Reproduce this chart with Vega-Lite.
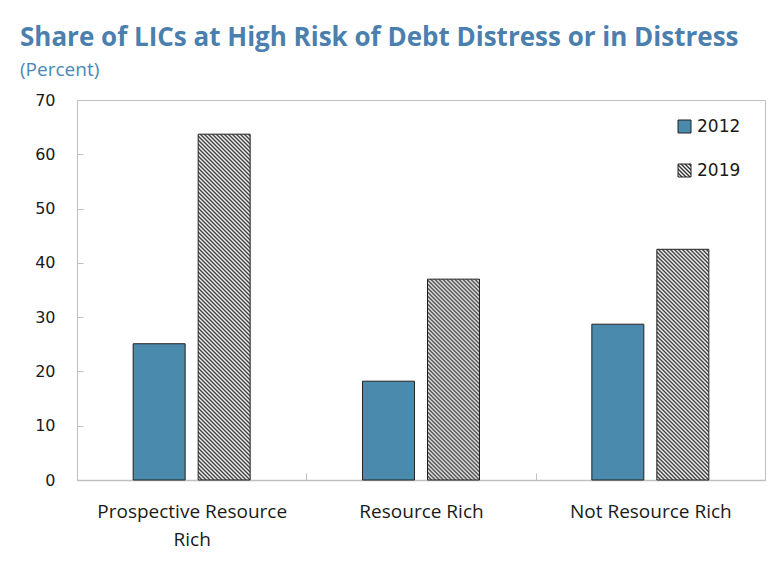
{
  "$schema": "https://vega.github.io/schema/vega-lite/v6.json",
  "autosize": {"type": "none"},
  "width": 688,
  "height": 380,
  "padding": {"left": 77, "top": 100, "right": 15, "bottom": 92},
  "background": "#ffffff",
  "title": {
    "text": "Share of LICs at High Risk of Debt Distress or in Distress",
    "subtitle": "(Percent)",
    "anchor": "start",
    "frame": "group",
    "dx": -57,
    "offset": 12,
    "font": "Open Sans",
    "fontSize": 26,
    "fontWeight": "bold",
    "color": "#4a7fae",
    "subtitleFont": "Open Sans",
    "subtitleFontSize": 19,
    "subtitleColor": "#4a86bb",
    "subtitlePadding": 10
  },
  "data": {
    "values": [
      {"cat": "Prospective Resource Rich", "year": "2012", "value": 25.1},
      {"cat": "Prospective Resource Rich", "year": "2019", "value": 63.7},
      {"cat": "Resource Rich", "year": "2012", "value": 18.2},
      {"cat": "Resource Rich", "year": "2019", "value": 37.0},
      {"cat": "Not Resource Rich", "year": "2012", "value": 28.7},
      {"cat": "Not Resource Rich", "year": "2019", "value": 42.5}
    ]
  },
  "encoding": {
    "x": {
      "field": "cat",
      "type": "nominal",
      "sort": ["Prospective Resource Rich", "Resource Rich", "Not Resource Rich"],
      "scale": {"paddingInner": 0, "paddingOuter": 0},
      "axis": {
        "title": null,
        "labelAngle": 0,
        "tickBand": "extent",
        "tickSize": -7,
        "tickColor": "#bfbfbf",
        "domainColor": "#bfbfbf",
        "domainWidth": 1.5,
        "labelPadding": 29,
        "labelFont": "Open Sans",
        "labelFontSize": 19,
        "labelLineHeight": 28,
        "labelLimit": 400,
        "labelColor": "#1a1a1a",
        "labelExpr": "datum.value === 'Prospective Resource Rich' ? ['Prospective Resource', 'Rich'] : datum.value"
      }
    },
    "xOffset": {
      "field": "year",
      "type": "nominal",
      "scale": {"domain": ["2012", "2019"], "paddingInner": 0.2, "paddingOuter": 0.864}
    },
    "y": {
      "field": "value",
      "type": "quantitative",
      "scale": {"domain": [0, 70], "nice": false},
      "axis": {
        "title": null,
        "grid": false,
        "values": [0, 10, 20, 30, 40, 50, 60, 70],
        "tickSize": -6,
        "tickColor": "#bfbfbf",
        "domainColor": "#bfbfbf",
        "labelPadding": 28,
        "labelFont": "DejaVu Sans",
        "labelFontSize": 16,
        "labelColor": "#1a1a1a"
      }
    }
  },
  "layer": [
    {
      "transform": [{"filter": "datum.year === '2012'"}],
      "mark": {"type": "bar", "strokeWidth": 1, "fill": "#4a8bad"},
      "encoding": {
        "stroke": {
          "field": "year",
          "type": "nominal",
          "scale": {"domain": ["2012"], "range": ["#222222"]},
          "legend": {
            "title": null,
            "orient": "none",
            "legendX": 599,
            "legendY": 18,
            "padding": 0,
            "symbolType": "square",
            "symbolSize": 169,
            "symbolStrokeWidth": 1,
            "labelFont": "DejaVu Sans",
            "labelFontSize": 17,
            "labelColor": "#1a1a1a",
            "labelOffset": 4
          }
        }
      }
    },
    {
      "transform": [{"filter": "datum.year === '2019'"}],
      "mark": {"type": "bar", "strokeWidth": 1},
      "encoding": {
        "stroke": {
          "field": "year",
          "type": "nominal",
          "scale": {"domain": ["2019"], "range": ["#222222"]},
          "legend": {
            "title": null,
            "orient": "none",
            "legendX": 599,
            "legendY": 62,
            "padding": 0,
            "symbolType": "square",
            "symbolSize": 169,
            "symbolStrokeWidth": 1,
            "labelFont": "DejaVu Sans",
            "labelFontSize": 17,
            "labelColor": "#1a1a1a",
            "labelOffset": 4
          }
        },
        "fill": {
          "condition": [
            {"test": "datum.cat === 'Prospective Resource Rich'", "value": {"gradient": "linear", "x1": 0, "y1": 1, "x2": 0.170099, "y2": -0.131158, "stops": [{"offset":0,"color":"#333"},{"offset":0.005,"color":"#fff"},{"offset":0.01,"color":"#333"},{"offset":0.015,"color":"#fff"},{"offset":0.02,"color":"#333"},{"offset":0.025,"color":"#fff"},{"offset":0.03,"color":"#333"},{"offset":0.035,"color":"#fff"},{"offset":0.04,"color":"#333"},{"offset":0.045,"color":"#fff"},{"offset":0.05,"color":"#333"},{"offset":0.055,"color":"#fff"},{"offset":0.06,"color":"#333"},{"offset":0.065,"color":"#fff"},{"offset":0.07,"color":"#333"},{"offset":0.075,"color":"#fff"},{"offset":0.08,"color":"#333"},{"offset":0.085,"color":"#fff"},{"offset":0.09,"color":"#333"},{"offset":0.095,"color":"#fff"},{"offset":0.1,"color":"#333"},{"offset":0.105,"color":"#fff"},{"offset":0.11,"color":"#333"},{"offset":0.115,"color":"#fff"},{"offset":0.12,"color":"#333"},{"offset":0.125,"color":"#fff"},{"offset":0.13,"color":"#333"},{"offset":0.135,"color":"#fff"},{"offset":0.14,"color":"#333"},{"offset":0.145,"color":"#fff"},{"offset":0.15,"color":"#333"},{"offset":0.155,"color":"#fff"},{"offset":0.16,"color":"#333"},{"offset":0.165,"color":"#fff"},{"offset":0.17,"color":"#333"},{"offset":0.175,"color":"#fff"},{"offset":0.18,"color":"#333"},{"offset":0.185,"color":"#fff"},{"offset":0.19,"color":"#333"},{"offset":0.195,"color":"#fff"},{"offset":0.2,"color":"#333"},{"offset":0.205,"color":"#fff"},{"offset":0.21,"color":"#333"},{"offset":0.215,"color":"#fff"},{"offset":0.22,"color":"#333"},{"offset":0.225,"color":"#fff"},{"offset":0.23,"color":"#333"},{"offset":0.235,"color":"#fff"},{"offset":0.24,"color":"#333"},{"offset":0.245,"color":"#fff"},{"offset":0.25,"color":"#333"},{"offset":0.255,"color":"#fff"},{"offset":0.26,"color":"#333"},{"offset":0.265,"color":"#fff"},{"offset":0.27,"color":"#333"},{"offset":0.275,"color":"#fff"},{"offset":0.28,"color":"#333"},{"offset":0.285,"color":"#fff"},{"offset":0.29,"color":"#333"},{"offset":0.295,"color":"#fff"},{"offset":0.3,"color":"#333"},{"offset":0.305,"color":"#fff"},{"offset":0.31,"color":"#333"},{"offset":0.315,"color":"#fff"},{"offset":0.32,"color":"#333"},{"offset":0.325,"color":"#fff"},{"offset":0.33,"color":"#333"},{"offset":0.335,"color":"#fff"},{"offset":0.34,"color":"#333"},{"offset":0.345,"color":"#fff"},{"offset":0.35,"color":"#333"},{"offset":0.355,"color":"#fff"},{"offset":0.36,"color":"#333"},{"offset":0.365,"color":"#fff"},{"offset":0.37,"color":"#333"},{"offset":0.375,"color":"#fff"},{"offset":0.38,"color":"#333"},{"offset":0.385,"color":"#fff"},{"offset":0.39,"color":"#333"},{"offset":0.395,"color":"#fff"},{"offset":0.4,"color":"#333"},{"offset":0.405,"color":"#fff"},{"offset":0.41,"color":"#333"},{"offset":0.415,"color":"#fff"},{"offset":0.42,"color":"#333"},{"offset":0.425,"color":"#fff"},{"offset":0.43,"color":"#333"},{"offset":0.435,"color":"#fff"},{"offset":0.44,"color":"#333"},{"offset":0.445,"color":"#fff"},{"offset":0.45,"color":"#333"},{"offset":0.455,"color":"#fff"},{"offset":0.46,"color":"#333"},{"offset":0.465,"color":"#fff"},{"offset":0.47,"color":"#333"},{"offset":0.475,"color":"#fff"},{"offset":0.48,"color":"#333"},{"offset":0.485,"color":"#fff"},{"offset":0.49,"color":"#333"},{"offset":0.495,"color":"#fff"},{"offset":0.5,"color":"#333"},{"offset":0.505,"color":"#fff"},{"offset":0.51,"color":"#333"},{"offset":0.515,"color":"#fff"},{"offset":0.52,"color":"#333"},{"offset":0.525,"color":"#fff"},{"offset":0.53,"color":"#333"},{"offset":0.535,"color":"#fff"},{"offset":0.54,"color":"#333"},{"offset":0.545,"color":"#fff"},{"offset":0.55,"color":"#333"},{"offset":0.555,"color":"#fff"},{"offset":0.56,"color":"#333"},{"offset":0.565,"color":"#fff"},{"offset":0.57,"color":"#333"},{"offset":0.575,"color":"#fff"},{"offset":0.58,"color":"#333"},{"offset":0.585,"color":"#fff"},{"offset":0.59,"color":"#333"},{"offset":0.595,"color":"#fff"},{"offset":0.6,"color":"#333"},{"offset":0.605,"color":"#fff"},{"offset":0.61,"color":"#333"},{"offset":0.615,"color":"#fff"},{"offset":0.62,"color":"#333"},{"offset":0.625,"color":"#fff"},{"offset":0.63,"color":"#333"},{"offset":0.635,"color":"#fff"},{"offset":0.64,"color":"#333"},{"offset":0.645,"color":"#fff"},{"offset":0.65,"color":"#333"},{"offset":0.655,"color":"#fff"},{"offset":0.66,"color":"#333"},{"offset":0.665,"color":"#fff"},{"offset":0.67,"color":"#333"},{"offset":0.675,"color":"#fff"},{"offset":0.68,"color":"#333"},{"offset":0.685,"color":"#fff"},{"offset":0.69,"color":"#333"},{"offset":0.695,"color":"#fff"},{"offset":0.7,"color":"#333"},{"offset":0.705,"color":"#fff"},{"offset":0.71,"color":"#333"},{"offset":0.715,"color":"#fff"},{"offset":0.72,"color":"#333"},{"offset":0.725,"color":"#fff"},{"offset":0.73,"color":"#333"},{"offset":0.735,"color":"#fff"},{"offset":0.74,"color":"#333"},{"offset":0.745,"color":"#fff"},{"offset":0.75,"color":"#333"},{"offset":0.755,"color":"#fff"},{"offset":0.76,"color":"#333"},{"offset":0.765,"color":"#fff"},{"offset":0.77,"color":"#333"},{"offset":0.775,"color":"#fff"},{"offset":0.78,"color":"#333"},{"offset":0.785,"color":"#fff"},{"offset":0.79,"color":"#333"},{"offset":0.795,"color":"#fff"},{"offset":0.8,"color":"#333"},{"offset":0.805,"color":"#fff"},{"offset":0.81,"color":"#333"},{"offset":0.815,"color":"#fff"},{"offset":0.82,"color":"#333"},{"offset":0.825,"color":"#fff"},{"offset":0.83,"color":"#333"},{"offset":0.835,"color":"#fff"},{"offset":0.84,"color":"#333"},{"offset":0.845,"color":"#fff"},{"offset":0.85,"color":"#333"},{"offset":0.855,"color":"#fff"},{"offset":0.86,"color":"#333"},{"offset":0.865,"color":"#fff"},{"offset":0.87,"color":"#333"},{"offset":0.875,"color":"#fff"},{"offset":0.88,"color":"#333"},{"offset":0.885,"color":"#fff"},{"offset":0.89,"color":"#333"},{"offset":0.895,"color":"#fff"},{"offset":0.9,"color":"#333"},{"offset":0.905,"color":"#fff"},{"offset":0.91,"color":"#333"},{"offset":0.915,"color":"#fff"},{"offset":0.92,"color":"#333"},{"offset":0.925,"color":"#fff"},{"offset":0.93,"color":"#333"},{"offset":0.935,"color":"#fff"},{"offset":0.94,"color":"#333"},{"offset":0.945,"color":"#fff"},{"offset":0.95,"color":"#333"},{"offset":0.955,"color":"#fff"},{"offset":0.96,"color":"#333"},{"offset":0.965,"color":"#fff"},{"offset":0.97,"color":"#333"},{"offset":0.975,"color":"#fff"},{"offset":0.98,"color":"#333"},{"offset":0.985,"color":"#fff"},{"offset":0.99,"color":"#333"},{"offset":0.995,"color":"#fff"},{"offset":1,"color":"#333"}]}},
            {"test": "datum.cat === 'Resource Rich'", "value": {"gradient": "linear", "x1": 0, "y1": 1, "x2": 0.483186, "y2": -0.866366, "stops": [{"offset":0,"color":"#333"},{"offset":0.005,"color":"#fff"},{"offset":0.01,"color":"#333"},{"offset":0.015,"color":"#fff"},{"offset":0.02,"color":"#333"},{"offset":0.025,"color":"#fff"},{"offset":0.03,"color":"#333"},{"offset":0.035,"color":"#fff"},{"offset":0.04,"color":"#333"},{"offset":0.045,"color":"#fff"},{"offset":0.05,"color":"#333"},{"offset":0.055,"color":"#fff"},{"offset":0.06,"color":"#333"},{"offset":0.065,"color":"#fff"},{"offset":0.07,"color":"#333"},{"offset":0.075,"color":"#fff"},{"offset":0.08,"color":"#333"},{"offset":0.085,"color":"#fff"},{"offset":0.09,"color":"#333"},{"offset":0.095,"color":"#fff"},{"offset":0.1,"color":"#333"},{"offset":0.105,"color":"#fff"},{"offset":0.11,"color":"#333"},{"offset":0.115,"color":"#fff"},{"offset":0.12,"color":"#333"},{"offset":0.125,"color":"#fff"},{"offset":0.13,"color":"#333"},{"offset":0.135,"color":"#fff"},{"offset":0.14,"color":"#333"},{"offset":0.145,"color":"#fff"},{"offset":0.15,"color":"#333"},{"offset":0.155,"color":"#fff"},{"offset":0.16,"color":"#333"},{"offset":0.165,"color":"#fff"},{"offset":0.17,"color":"#333"},{"offset":0.175,"color":"#fff"},{"offset":0.18,"color":"#333"},{"offset":0.185,"color":"#fff"},{"offset":0.19,"color":"#333"},{"offset":0.195,"color":"#fff"},{"offset":0.2,"color":"#333"},{"offset":0.205,"color":"#fff"},{"offset":0.21,"color":"#333"},{"offset":0.215,"color":"#fff"},{"offset":0.22,"color":"#333"},{"offset":0.225,"color":"#fff"},{"offset":0.23,"color":"#333"},{"offset":0.235,"color":"#fff"},{"offset":0.24,"color":"#333"},{"offset":0.245,"color":"#fff"},{"offset":0.25,"color":"#333"},{"offset":0.255,"color":"#fff"},{"offset":0.26,"color":"#333"},{"offset":0.265,"color":"#fff"},{"offset":0.27,"color":"#333"},{"offset":0.275,"color":"#fff"},{"offset":0.28,"color":"#333"},{"offset":0.285,"color":"#fff"},{"offset":0.29,"color":"#333"},{"offset":0.295,"color":"#fff"},{"offset":0.3,"color":"#333"},{"offset":0.305,"color":"#fff"},{"offset":0.31,"color":"#333"},{"offset":0.315,"color":"#fff"},{"offset":0.32,"color":"#333"},{"offset":0.325,"color":"#fff"},{"offset":0.33,"color":"#333"},{"offset":0.335,"color":"#fff"},{"offset":0.34,"color":"#333"},{"offset":0.345,"color":"#fff"},{"offset":0.35,"color":"#333"},{"offset":0.355,"color":"#fff"},{"offset":0.36,"color":"#333"},{"offset":0.365,"color":"#fff"},{"offset":0.37,"color":"#333"},{"offset":0.375,"color":"#fff"},{"offset":0.38,"color":"#333"},{"offset":0.385,"color":"#fff"},{"offset":0.39,"color":"#333"},{"offset":0.395,"color":"#fff"},{"offset":0.4,"color":"#333"},{"offset":0.405,"color":"#fff"},{"offset":0.41,"color":"#333"},{"offset":0.415,"color":"#fff"},{"offset":0.42,"color":"#333"},{"offset":0.425,"color":"#fff"},{"offset":0.43,"color":"#333"},{"offset":0.435,"color":"#fff"},{"offset":0.44,"color":"#333"},{"offset":0.445,"color":"#fff"},{"offset":0.45,"color":"#333"},{"offset":0.455,"color":"#fff"},{"offset":0.46,"color":"#333"},{"offset":0.465,"color":"#fff"},{"offset":0.47,"color":"#333"},{"offset":0.475,"color":"#fff"},{"offset":0.48,"color":"#333"},{"offset":0.485,"color":"#fff"},{"offset":0.49,"color":"#333"},{"offset":0.495,"color":"#fff"},{"offset":0.5,"color":"#333"},{"offset":0.505,"color":"#fff"},{"offset":0.51,"color":"#333"},{"offset":0.515,"color":"#fff"},{"offset":0.52,"color":"#333"},{"offset":0.525,"color":"#fff"},{"offset":0.53,"color":"#333"},{"offset":0.535,"color":"#fff"},{"offset":0.54,"color":"#333"},{"offset":0.545,"color":"#fff"},{"offset":0.55,"color":"#333"},{"offset":0.555,"color":"#fff"},{"offset":0.56,"color":"#333"},{"offset":0.565,"color":"#fff"},{"offset":0.57,"color":"#333"},{"offset":0.575,"color":"#fff"},{"offset":0.58,"color":"#333"},{"offset":0.585,"color":"#fff"},{"offset":0.59,"color":"#333"},{"offset":0.595,"color":"#fff"},{"offset":0.6,"color":"#333"},{"offset":0.605,"color":"#fff"},{"offset":0.61,"color":"#333"},{"offset":0.615,"color":"#fff"},{"offset":0.62,"color":"#333"},{"offset":0.625,"color":"#fff"},{"offset":0.63,"color":"#333"},{"offset":0.635,"color":"#fff"},{"offset":0.64,"color":"#333"}]}},
            {"test": "datum.cat === 'Not Resource Rich'", "value": {"gradient": "linear", "x1": 0, "y1": 1, "x2": 0.371873, "y2": -0.649937, "stops": [{"offset":0,"color":"#333"},{"offset":0.005,"color":"#fff"},{"offset":0.01,"color":"#333"},{"offset":0.015,"color":"#fff"},{"offset":0.02,"color":"#333"},{"offset":0.025,"color":"#fff"},{"offset":0.03,"color":"#333"},{"offset":0.035,"color":"#fff"},{"offset":0.04,"color":"#333"},{"offset":0.045,"color":"#fff"},{"offset":0.05,"color":"#333"},{"offset":0.055,"color":"#fff"},{"offset":0.06,"color":"#333"},{"offset":0.065,"color":"#fff"},{"offset":0.07,"color":"#333"},{"offset":0.075,"color":"#fff"},{"offset":0.08,"color":"#333"},{"offset":0.085,"color":"#fff"},{"offset":0.09,"color":"#333"},{"offset":0.095,"color":"#fff"},{"offset":0.1,"color":"#333"},{"offset":0.105,"color":"#fff"},{"offset":0.11,"color":"#333"},{"offset":0.115,"color":"#fff"},{"offset":0.12,"color":"#333"},{"offset":0.125,"color":"#fff"},{"offset":0.13,"color":"#333"},{"offset":0.135,"color":"#fff"},{"offset":0.14,"color":"#333"},{"offset":0.145,"color":"#fff"},{"offset":0.15,"color":"#333"},{"offset":0.155,"color":"#fff"},{"offset":0.16,"color":"#333"},{"offset":0.165,"color":"#fff"},{"offset":0.17,"color":"#333"},{"offset":0.175,"color":"#fff"},{"offset":0.18,"color":"#333"},{"offset":0.185,"color":"#fff"},{"offset":0.19,"color":"#333"},{"offset":0.195,"color":"#fff"},{"offset":0.2,"color":"#333"},{"offset":0.205,"color":"#fff"},{"offset":0.21,"color":"#333"},{"offset":0.215,"color":"#fff"},{"offset":0.22,"color":"#333"},{"offset":0.225,"color":"#fff"},{"offset":0.23,"color":"#333"},{"offset":0.235,"color":"#fff"},{"offset":0.24,"color":"#333"},{"offset":0.245,"color":"#fff"},{"offset":0.25,"color":"#333"},{"offset":0.255,"color":"#fff"},{"offset":0.26,"color":"#333"},{"offset":0.265,"color":"#fff"},{"offset":0.27,"color":"#333"},{"offset":0.275,"color":"#fff"},{"offset":0.28,"color":"#333"},{"offset":0.285,"color":"#fff"},{"offset":0.29,"color":"#333"},{"offset":0.295,"color":"#fff"},{"offset":0.3,"color":"#333"},{"offset":0.305,"color":"#fff"},{"offset":0.31,"color":"#333"},{"offset":0.315,"color":"#fff"},{"offset":0.32,"color":"#333"},{"offset":0.325,"color":"#fff"},{"offset":0.33,"color":"#333"},{"offset":0.335,"color":"#fff"},{"offset":0.34,"color":"#333"},{"offset":0.345,"color":"#fff"},{"offset":0.35,"color":"#333"},{"offset":0.355,"color":"#fff"},{"offset":0.36,"color":"#333"},{"offset":0.365,"color":"#fff"},{"offset":0.37,"color":"#333"},{"offset":0.375,"color":"#fff"},{"offset":0.38,"color":"#333"},{"offset":0.385,"color":"#fff"},{"offset":0.39,"color":"#333"},{"offset":0.395,"color":"#fff"},{"offset":0.4,"color":"#333"},{"offset":0.405,"color":"#fff"},{"offset":0.41,"color":"#333"},{"offset":0.415,"color":"#fff"},{"offset":0.42,"color":"#333"},{"offset":0.425,"color":"#fff"},{"offset":0.43,"color":"#333"},{"offset":0.435,"color":"#fff"},{"offset":0.44,"color":"#333"},{"offset":0.445,"color":"#fff"},{"offset":0.45,"color":"#333"},{"offset":0.455,"color":"#fff"},{"offset":0.46,"color":"#333"},{"offset":0.465,"color":"#fff"},{"offset":0.47,"color":"#333"},{"offset":0.475,"color":"#fff"},{"offset":0.48,"color":"#333"},{"offset":0.485,"color":"#fff"},{"offset":0.49,"color":"#333"},{"offset":0.495,"color":"#fff"},{"offset":0.5,"color":"#333"},{"offset":0.505,"color":"#fff"},{"offset":0.51,"color":"#333"},{"offset":0.515,"color":"#fff"},{"offset":0.52,"color":"#333"},{"offset":0.525,"color":"#fff"},{"offset":0.53,"color":"#333"},{"offset":0.535,"color":"#fff"},{"offset":0.54,"color":"#333"},{"offset":0.545,"color":"#fff"},{"offset":0.55,"color":"#333"},{"offset":0.555,"color":"#fff"},{"offset":0.56,"color":"#333"},{"offset":0.565,"color":"#fff"},{"offset":0.57,"color":"#333"},{"offset":0.575,"color":"#fff"},{"offset":0.58,"color":"#333"},{"offset":0.585,"color":"#fff"},{"offset":0.59,"color":"#333"},{"offset":0.595,"color":"#fff"},{"offset":0.6,"color":"#333"},{"offset":0.605,"color":"#fff"},{"offset":0.61,"color":"#333"},{"offset":0.615,"color":"#fff"},{"offset":0.62,"color":"#333"},{"offset":0.625,"color":"#fff"},{"offset":0.63,"color":"#333"},{"offset":0.635,"color":"#fff"},{"offset":0.64,"color":"#333"},{"offset":0.645,"color":"#fff"},{"offset":0.65,"color":"#333"},{"offset":0.655,"color":"#fff"},{"offset":0.66,"color":"#333"},{"offset":0.665,"color":"#fff"},{"offset":0.67,"color":"#333"},{"offset":0.675,"color":"#fff"},{"offset":0.68,"color":"#333"},{"offset":0.685,"color":"#fff"},{"offset":0.69,"color":"#333"},{"offset":0.695,"color":"#fff"},{"offset":0.7,"color":"#333"},{"offset":0.705,"color":"#fff"},{"offset":0.71,"color":"#333"}]}}
          ],
          "value": {"gradient": "linear", "x1": 0, "y1": 1, "x2": 1, "y2": 0, "stops": [{"offset":0,"color":"#333"},{"offset":0.077,"color":"#fff"},{"offset":0.154,"color":"#333"},{"offset":0.231,"color":"#fff"},{"offset":0.308,"color":"#333"},{"offset":0.385,"color":"#fff"},{"offset":0.462,"color":"#333"},{"offset":0.538,"color":"#fff"},{"offset":0.615,"color":"#333"},{"offset":0.692,"color":"#fff"},{"offset":0.769,"color":"#333"},{"offset":0.846,"color":"#fff"},{"offset":0.923,"color":"#333"},{"offset":1,"color":"#fff"}]}
        }
      }
    }
  ],
  "resolve": {"scale": {"stroke": "independent"}, "legend": {"stroke": "independent"}},
  "config": {
    "view": {"stroke": "#bfbfbf", "strokeWidth": 1}
  }
}
